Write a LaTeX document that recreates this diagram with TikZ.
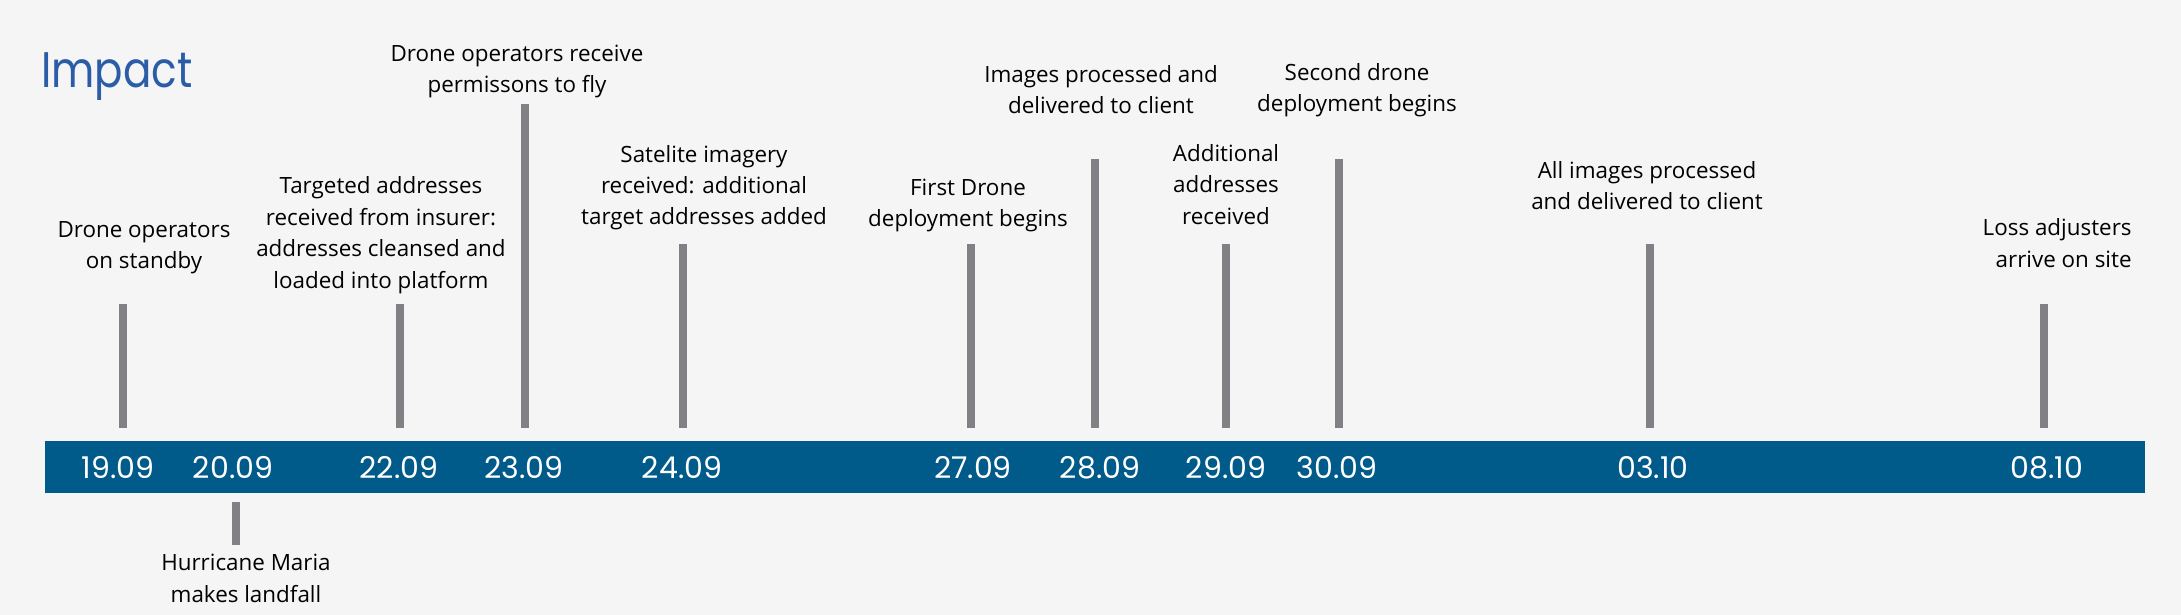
\documentclass[tikz,border=0pt]{standalone}
\usepackage{fontspec}
\usepackage{xcolor}
\setmainfont{Open Sans}
\newfontfamily\datefont{Poppins}
\newfontfamily\titlefont[FakeStretch=0.84]{Poppins}
\definecolor{bgcol}{HTML}{F5F5F5}
\definecolor{barblue}{HTML}{005A8A}
\definecolor{tickgray}{HTML}{818185}
\definecolor{titleblue}{HTML}{2B5CA8}
\tikzset{
	event/.style={align=center,anchor=base,inner sep=0pt,font=\fontsize{11.2}{15.75}\selectfont},
	datelabel/.style={anchor=base,inner sep=0pt,text=white,font=\datefont\fontsize{15}{18}\selectfont},
	tickline/.style={draw=tickgray,line width=4pt}
}
\begin{document}
\begin{tikzpicture}[x=0.5pt,y=-0.5pt]
			\useasboundingbox[fill=bgcol] (0,0) rectangle (2181,615);
			\node[anchor=base west,inner sep=0pt,text=titleblue,font=\titlefont\fontsize{25}{30}\selectfont] (title) at (41,88) {Impact};
			\fill[barblue] (45,441) rectangle (2145,493);
			\node[datelabel] (d1909) at (118,478) {19.09};
			\node[datelabel] (d2009) at (233,478) {20.09};
			\node[datelabel] (d2209) at (399,478) {22.09};
			\node[datelabel] (d2309) at (524,478) {23.09};
			\node[datelabel] (d2409) at (682,478) {24.09};
			\node[datelabel] (d2709) at (973,478) {27.09};
			\node[datelabel] (d2809) at (1100,478) {28.09};
			\node[datelabel] (d2909) at (1226,478) {29.09};
			\node[datelabel] (d3009) at (1337,478) {30.09};
			\node[datelabel] (d0310) at (1653,478) {03.10};
			\node[datelabel] (d0810) at (2047,478) {08.10};
			\coordinate (t1909) at (123,304); \coordinate (b1909) at (123,428);
			\coordinate (t2009) at (236,545); \coordinate (b2009) at (236,502);
			\coordinate (t2209) at (400,304); \coordinate (b2209) at (400,428);
			\coordinate (t2309) at (525,104); \coordinate (b2309) at (525,428);
			\coordinate (t2409) at (683,244); \coordinate (b2409) at (683,428);
			\coordinate (t2709) at (971,244); \coordinate (b2709) at (971,428);
			\coordinate (t2809) at (1095,159); \coordinate (b2809) at (1095,428);
			\coordinate (t2909) at (1226,244); \coordinate (b2909) at (1226,428);
			\coordinate (t3009) at (1339,159); \coordinate (b3009) at (1339,428);
			\coordinate (t0310) at (1650,244); \coordinate (b0310) at (1650,428);
			\coordinate (t0810) at (2044,304); \coordinate (b0810) at (2044,428);
			\foreach \d in {1909,2009,2209,2309,2409,2709,2809,2909,3009,0310,0810}
				\draw[tickline] (t\d) -- (b\d);
			\node[event] (standby) at (144,269) {Drone operators\\on standby};
			\node[event] (landfall) at (246,602) {Hurricane Maria\\makes landfall};
			\node[event] (targeted) at (381,288) {Targeted addresses\\received from insurer:\\addresses cleansed and\\loaded into platform};
			\node[event] (permission) at (517,93) {Drone operators receive\\permissons to fly};
			\node[event] (satelite) at (704,225) {Satelite imagery\\received: additional\\target addresses added};
			\node[event] (firstdrone) at (968,227) {First Drone\\deployment begins};
			\node[event] (processed) at (1101,114) {Images processed and\\delivered to client};
			\node[event] (additional) at (1226,224) {Additional\\addresses\\received};
			\node[event] (seconddrone) at (1357,112) {Second drone\\deployment begins};
			\node[event] (allimages) at (1647,210) {All images processed\\and delivered to client};
			\node[event,align=right,anchor=base east] (adjusters) at (2132,267) {Loss adjusters\\arrive on site};
		\end{tikzpicture}
\end{document}
